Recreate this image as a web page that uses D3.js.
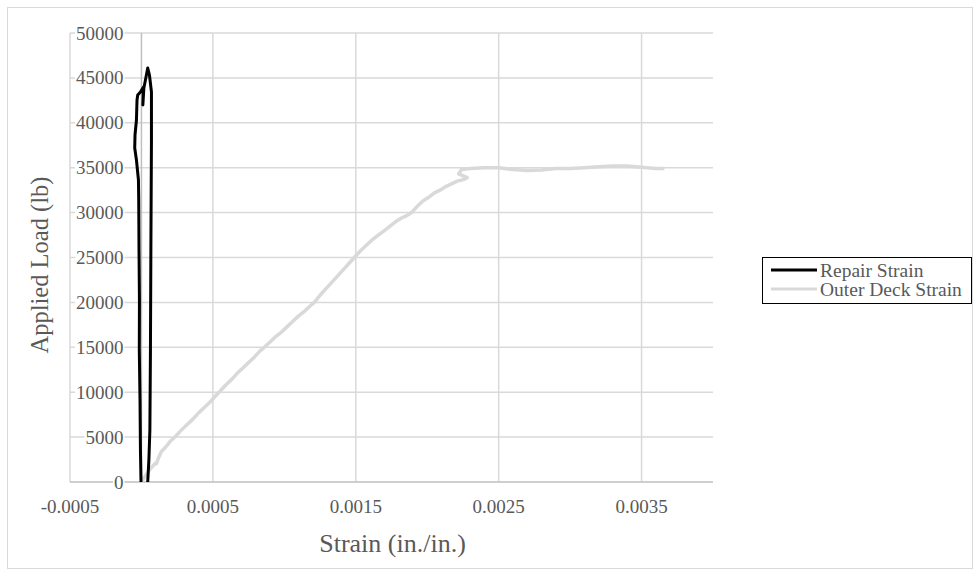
<!DOCTYPE html>
<html>
<head>
<meta charset="utf-8">
<script src="https://cdn.jsdelivr.net/npm/d3@7"></script>
<style>
  html, body { margin: 0; padding: 0; background: #fff; }
  svg text { font-family: "Liberation Serif", "Times New Roman", serif; fill: #595959; }
</style>
</head>
<body>
<svg id="chart" width="980" height="576"></svg>
<script>
// Load vs. strain readings for the repaired girder test
const seriesNames = ["Repair Strain", "Outer Deck Strain"];

const repairStrain = [
  -0.000003, -0.000007, -0.00001, -0.000015, -0.000014, -0.000017, -0.000019, -0.000021,
  -0.000035, -0.000047, -0.000045, -0.000035, -0.000031, -0.000026, -0.000007, 0.000014,
  0.00001, 0.000017, 0.000028, 0.000044, 0.000056, 0.00007, 0.00007, 0.000066,
  0.000063, 0.000059, 0.000052, 0.000044
];
const repairLoad = [
  0, 3560, 9130, 14700, 20270, 25840, 31400, 33630,
  35860, 37200, 38640, 40310, 42540, 43100, 43430, 43990,
  41980, 43880, 44770, 46100, 45320, 43430, 38090, 25840,
  14700, 5790, 2450, 0
];

const deckStrain = [
  0, 0.00002, 0.00005, 0.00008, 0.0001, 0.000105, 0.00012, 0.00014, 0.00017, 0.0002,
  0.00024, 0.00028, 0.00032, 0.00036, 0.0004, 0.00044, 0.00048, 0.00052, 0.00055, 0.00059,
  0.00063, 0.00067, 0.00071, 0.00075, 0.00079, 0.00083, 0.00086, 0.0009, 0.00094, 0.00098,
  0.00102, 0.00106, 0.0011, 0.00114, 0.00118, 0.00121, 0.00125, 0.00129, 0.00133, 0.00137,
  0.00141, 0.00145, 0.00149, 0.00153, 0.00157, 0.00161, 0.00165, 0.0017, 0.00174, 0.00178,
  0.00182, 0.00186, 0.00189, 0.00193, 0.00197, 0.00201, 0.00205, 0.00209, 0.00213, 0.00217,
  0.00221, 0.00226, 0.00228, 0.00222, 0.00224, 0.0023, 0.0024, 0.0025, 0.0026, 0.0027,
  0.0028, 0.0029, 0.003, 0.0031, 0.0032, 0.0033, 0.0034, 0.0035, 0.0036, 0.00366
];
const deckLoad = [
  0, 500, 1200, 1800, 2100, 2050, 2700, 3400, 3900, 4500,
  5100, 5800, 6400, 7000, 7700, 8300, 8900, 9600, 10100, 10800,
  11400, 12100, 12700, 13300, 13900, 14600, 15000, 15600, 16200, 16700,
  17300, 17900, 18500, 19000, 19600, 20000, 20800, 21500, 22200, 22900,
  23600, 24300, 25000, 25700, 26300, 26900, 27400, 28000, 28500, 29000,
  29400, 29700, 30000, 30700, 31300, 31700, 32200, 32500, 32900, 33200,
  33500, 33700, 33900, 34300, 34800, 34900, 35000, 35000, 34800, 34700,
  34750, 34900, 34900, 35000, 35100, 35200, 35200, 35050, 34900, 34900
];

const xTicks = [-0.0005, 0.0005, 0.0015, 0.0025, 0.0035];
const xTickLabels = ["-0.0005", "0.0005", "0.0015", "0.0025", "0.0035"];
const yTicks = [0, 5000, 10000, 15000, 20000, 25000, 30000, 35000, 40000, 45000, 50000];
const yTickLabels = ["0", "5000", "10000", "15000", "20000", "25000", "30000", "35000", "40000", "45000", "50000"];

const xTitle = "Strain (in./in.)";
const yTitle = "Applied Load (lb)";

const svg = d3.select("#chart");
const plot = { left: 70, right: 713, top: 33, bottom: 482 };

const x = d3.scaleLinear().domain([-0.0005, 0.004]).range([plot.left, plot.right]);
const y = d3.scaleLinear().domain([0, 50000]).range([plot.bottom, plot.top]);

const gridColor = "#d9d9d9";

// chart frame
svg.append("rect")
  .attr("x", 7.5).attr("y", 7.5).attr("width", 965).attr("height", 561)
  .attr("fill", "#fff").attr("stroke", "#d9d9d9").attr("stroke-width", 1);

// gridlines
const grid = svg.append("g");
grid.selectAll("line.h").data(yTicks.filter(d => d > 0)).join("line")
  .attr("x1", plot.left).attr("x2", plot.right)
  .attr("y1", d => y(d)).attr("y2", d => y(d))
  .attr("stroke", gridColor).attr("stroke-width", 1.5);
grid.selectAll("line.v").data(xTicks).join("line")
  .attr("x1", d => x(d)).attr("x2", d => x(d))
  .attr("y1", plot.top).attr("y2", plot.bottom)
  .attr("stroke", gridColor).attr("stroke-width", 1.5);

// axis lines (value axis crosses at zero strain)
svg.append("line")
  .attr("x1", x(0)).attr("x2", x(0)).attr("y1", plot.top).attr("y2", plot.bottom)
  .attr("stroke", "#bfbfbf").attr("stroke-width", 1.5);
svg.append("line")
  .attr("x1", plot.left).attr("x2", plot.right).attr("y1", y(0)).attr("y2", y(0))
  .attr("stroke", "#bfbfbf").attr("stroke-width", 1.5);

// y tick labels, sitting left of the zero-strain axis
const yLab = svg.append("g");
yTicks.forEach((v, i) => {
  const g = yLab.append("g");
  const t = g.append("text")
    .attr("x", x(0) - 18).attr("y", y(v))
    .attr("text-anchor", "end").attr("dominant-baseline", "central")
    .attr("font-size", 19).text(yTickLabels[i]);
  const bb = t.node().getBBox();
  g.insert("rect", "text")
    .attr("x", bb.x - 1).attr("y", bb.y + 3).attr("width", bb.width + 2).attr("height", bb.height - 6)
    .attr("fill", "#fff");
});

// x tick labels
svg.append("g").selectAll("text").data(xTicks).join("text")
  .attr("x", d => x(d)).attr("y", 513)
  .attr("text-anchor", "middle").attr("font-size", 19)
  .text((d, i) => xTickLabels[i]);

// axis titles
svg.append("text")
  .attr("x", (plot.left + plot.right) / 2 + 1).attr("y", 552)
  .attr("text-anchor", "middle").attr("font-size", 26).text(xTitle);
svg.append("text")
  .attr("transform", `translate(48,265) rotate(-90)`)
  .attr("text-anchor", "middle").attr("font-size", 24.5).text(yTitle);

// series
const line = d3.line().x(d => x(d[0])).y(d => y(d[1]));
const deckPts = deckStrain.map((s, i) => [s, deckLoad[i]]);
const repairPts = repairStrain.map((s, i) => [s, repairLoad[i]]);

svg.append("path").datum(deckPts).attr("d", line)
  .attr("fill", "none").attr("stroke", "#d9d9d9").attr("stroke-width", 3.5)
  .attr("stroke-linejoin", "round");
svg.append("path").datum(repairPts).attr("d", line)
  .attr("fill", "none").attr("stroke", "#000").attr("stroke-width", 3)
  .attr("stroke-linejoin", "round");

// legend
const lg = svg.append("g");
lg.append("rect")
  .attr("x", 762.5).attr("y", 257.5).attr("width", 209).attr("height", 46)
  .attr("fill", "#fff").attr("stroke", "#000").attr("stroke-width", 1);
const legendColors = ["#000", "#d9d9d9"];
seriesNames.forEach((name, i) => {
  const cy = 270 + i * 19;
  lg.append("line").attr("x1", 771).attr("x2", 817).attr("y1", cy).attr("y2", cy)
    .attr("stroke", legendColors[i]).attr("stroke-width", 3);
  lg.append("text").attr("x", 820).attr("y", cy).attr("dominant-baseline", "central")
    .attr("font-size", 19.5).text(name);
});
</script>
</body>
</html>
